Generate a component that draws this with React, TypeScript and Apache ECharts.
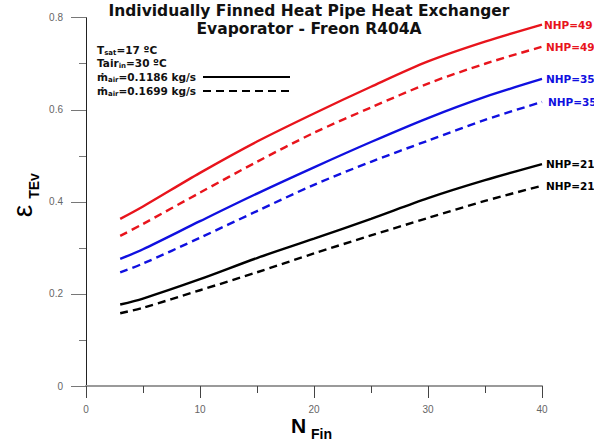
import React, { useEffect, useRef } from "react";
import * as echarts from "echarts";

const nFin = [3, 5, 10, 15, 20, 25, 30, 35, 40];
const red49Solid = [0.363, 0.39, 0.463, 0.531, 0.592, 0.65, 0.705, 0.748, 0.785];
const red49Dashed = [0.326, 0.352, 0.42, 0.487, 0.55, 0.605, 0.657, 0.7, 0.737];
const blue35Solid = [0.276, 0.297, 0.358, 0.418, 0.475, 0.53, 0.582, 0.628, 0.667];
const blue35Dashed = [0.247, 0.266, 0.322, 0.38, 0.437, 0.487, 0.533, 0.578, 0.617];
const black21Solid = [0.177, 0.19, 0.232, 0.278, 0.32, 0.363, 0.408, 0.447, 0.482];
const black21Dashed = [0.158, 0.17, 0.208, 0.247, 0.288, 0.327, 0.365, 0.402, 0.435];
const xTicks = [0, 10, 20, 30, 40];
const yTicks = [0, 0.2, 0.4, 0.6, 0.8];

const FONT = "'Liberation Sans', Arial, Helvetica, sans-serif";
const WIDE = "'DejaVu Sans', 'Liberation Sans', Arial, sans-serif";
const RED = "#e8141c";
const BLUE = "#1010e0";
const BLACK = "#000000";

type S = { name: string; vals: number[]; color: string; dashed: boolean; label: string; dist: number };
const seriesDefs: S[] = [
  { name: "NHP=49 (0.1186)", vals: red49Solid, color: RED, dashed: false, label: "NHP=49", dist: 2 },
  { name: "NHP=49 (0.1699)", vals: red49Dashed, color: RED, dashed: true, label: "NHP=49", dist: 4 },
  { name: "NHP=35 (0.1186)", vals: blue35Solid, color: BLUE, dashed: false, label: "NHP=35", dist: 4 },
  { name: "NHP=35 (0.1699)", vals: blue35Dashed, color: BLUE, dashed: true, label: "NHP=35", dist: 6 },
  { name: "NHP=21 (0.1186)", vals: black21Solid, color: BLACK, dashed: false, label: "NHP=21", dist: 4 },
  { name: "NHP=21 (0.1699)", vals: black21Dashed, color: BLACK, dashed: true, label: "NHP=21", dist: 4 },
];

const annRich = {
  b: { font: `bold 10.5px ${WIDE}`, fill: "#111", lineHeight: 13, verticalAlign: "middle" },
  s: { font: `bold 7px ${WIDE}`, fill: "#111", lineHeight: 13, verticalAlign: "bottom", padding: [3, 0, 0, 0] },
};

export default function App() {
  const ref = useRef<HTMLDivElement>(null);
  useEffect(() => {
    if (!ref.current) return;
    const chart = echarts.init(ref.current, null, { renderer: "svg" });
    const option: any = {
      animation: false,
      backgroundColor: "#ffffff",
      textStyle: { fontFamily: FONT },
      grid: { left: 86, right: 52, top: 17.7, bottom: 59, containLabel: false },
      xAxis: {
        type: "value",
        min: xTicks[0],
        max: xTicks[xTicks.length - 1],
        interval: 10,
        axisLine: { show: true, lineStyle: { color: "#9a9a9a", width: 2 } },
        axisTick: { show: true, length: 12, lineStyle: { color: "#444", width: 1 } },
        minorTick: { show: true, splitNumber: 2, length: 7, lineStyle: { color: "#444", width: 1 } },
        splitLine: { show: false },
        axisLabel: { color: "#666", fontSize: 10, margin: 18, fontFamily: FONT },
      },
      yAxis: {
        type: "value",
        min: yTicks[0],
        max: yTicks[yTicks.length - 1],
        interval: 0.2,
        axisLine: { show: true, lineStyle: { color: "#222", width: 1 } },
        axisTick: { show: true, length: 15, lineStyle: { color: "#777", width: 1 } },
        minorTick: { show: true, splitNumber: 2, length: 7, lineStyle: { color: "#777", width: 1 } },
        splitLine: { show: false },
        axisLabel: { color: "#666", fontSize: 10, margin: 23, fontFamily: FONT },
      },
      series: seriesDefs.map((s) => ({
        name: s.name,
        type: "line",
        data: nFin.map((n, i) => [n, s.vals[i]]),
        smooth: 0.3,
        symbol: "none",
        lineStyle: { color: s.color, width: 2.4, type: s.dashed ? [8, 5] : "solid" },
        endLabel: {
          show: true,
          formatter: s.label,
          color: s.color,
          fontWeight: "bold",
          fontSize: 10.5,
          fontFamily: WIDE,
          distance: s.dist,
        },
      })),
      graphic: [
        {
          type: "text",
          x: 309,
          y: 11,
          style: {
            text: "Individually Finned Heat Pipe Heat Exchanger",
            font: `bold 15.5px ${WIDE}`,
            fill: "#111",
            align: "center",
            verticalAlign: "middle",
          },
        },
        {
          type: "text",
          x: 309,
          y: 29,
          style: {
            text: "Evaporator - Freon R404A",
            font: `bold 15.5px ${WIDE}`,
            fill: "#111",
            align: "center",
            verticalAlign: "middle",
          },
        },
        { type: "text", x: 97, y: 50, style: { text: "{b|T}{s|sat}{b|=17 ºC}", verticalAlign: "middle", rich: annRich } },
        { type: "text", x: 97, y: 63, style: { text: "{b|Tair}{s|in}{b|=30 ºC}", verticalAlign: "middle", rich: annRich } },
        { type: "text", x: 97, y: 77, style: { text: "{b|ṁ}{s|air}{b|=0.1186 kg/s}", verticalAlign: "middle", rich: annRich } },
        { type: "text", x: 97, y: 91, style: { text: "{b|ṁ}{s|air}{b|=0.1699 kg/s}", verticalAlign: "middle", rich: annRich } },
        {
          type: "line",
          shape: { x1: 203, y1: 77, x2: 290, y2: 77 },
          style: { stroke: "#000", lineWidth: 2 },
        },
        {
          type: "line",
          shape: { x1: 203, y1: 91, x2: 290, y2: 91 },
          style: { stroke: "#000", lineWidth: 2, lineDash: [8, 5] },
        },
        {
          type: "text",
          x: 291,
          y: 425,
          style: { text: "N", font: `bold 21px ${FONT}`, fill: "#000", align: "left", verticalAlign: "middle" },
        },
        {
          type: "text",
          x: 311,
          y: 434,
          style: { text: "Fin", font: `bold 14px ${FONT}`, fill: "#000", align: "left", verticalAlign: "middle" },
        },
        {
          type: "group",
          x: 22,
          y: 211,
          rotation: Math.PI / 2,
          children: [
            {
              type: "text",
              x: 0,
              y: 0,
              style: { text: "ε", font: `28px ${FONT}`, fill: "#000", align: "center", verticalAlign: "middle" },
            },
            {
              type: "text",
              x: 25,
              y: 12,
              style: { text: "TEv", font: `bold 14px ${FONT}`, fill: "#000", align: "center", verticalAlign: "middle" },
            },
          ],
        },
      ],
    };
    chart.setOption(option);
    return () => chart.dispose();
  }, []);
  return <div ref={ref} style={{ width: 594, height: 445, position: "absolute", left: 0, top: 0 }} />;
}
